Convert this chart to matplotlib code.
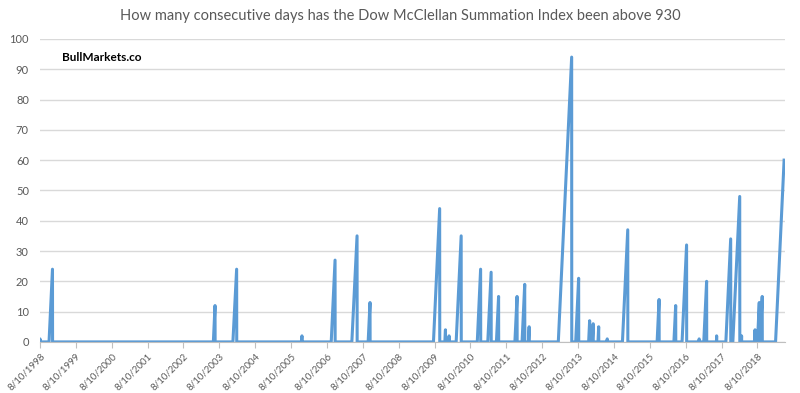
import numpy as np
import pandas as pd
import matplotlib
matplotlib.use("Agg")
import matplotlib.pyplot as plt

plt.rcParams['font.family'] = ['Lato', 'DejaVu Sans']

# each run of consecutive days above 930: first day, last day, length of run
run_start = ['1998-08-10', '1998-11-10', '2003-06-10', '2003-12-26', '2005-11-24',
             '2006-09-22', '2007-04-20', '2007-10-03', '2009-07-29', '2009-11-22',
             '2010-01-01', '2010-03-17', '2010-10-18', '2011-02-02', '2011-05-01',
             '2011-11-05', '2012-01-17', '2012-03-22', '2013-01-20', '2013-07-16',
             '2013-11-25', '2014-01-01', '2014-02-28', '2014-06-01', '2014-11-04',
             '2015-10-23', '2016-04-11', '2016-07-03', '2016-12-23', '2017-02-09',
             '2017-06-18', '2017-09-22', '2017-12-02', '2018-02-27', '2018-07-10',
             '2018-08-10', '2018-09-06', '2019-02-10']
run_end = ['1998-08-10', '1998-12-15', '2003-06-27', '2004-02-02', '2005-11-28',
           '2006-10-31', '2007-06-12', '2007-10-22', '2009-09-30', '2009-11-28',
           '2010-01-04', '2010-05-07', '2010-11-21', '2011-03-08', '2011-05-23',
           '2011-11-27', '2012-02-13', '2012-03-29', '2013-06-05', '2013-08-15',
           '2013-12-05', '2014-01-10', '2014-03-07', '2014-06-02', '2014-12-28',
           '2015-11-12', '2016-04-29', '2016-08-18', '2016-12-24', '2017-03-10',
           '2017-06-20', '2017-11-10', '2018-02-10', '2018-03-01', '2018-07-16',
           '2018-08-28', '2018-09-27', '2019-05-08']
run_days = [1, 24, 12, 24, 2, 27, 35, 13, 44, 4, 2, 35, 24, 23, 15, 15, 19, 5, 94, 21,
            7, 6, 5, 1, 37, 14, 12, 32, 1, 20, 2, 34, 48, 2, 4, 13, 15, 60]

xs, ys = [], []
for s, e, n in zip(run_start, run_end, run_days):
    s = pd.Timestamp(s)
    e = pd.Timestamp(e)
    xs += [s, e, e + pd.Timedelta(days=1)]
    ys += [0, n, 0]
# series ends while the last run is still going
xs.pop()
ys.pop()

tick_dates = pd.date_range('1998-08-10', periods=21, freq=pd.DateOffset(years=1))

grey = '#595959'
fig = plt.figure(figsize=(8, 3.93), dpi=100)
ax = fig.add_axes([0.05, 0.13, 0.931, 0.771])
ax.plot(xs, ys, color='#5b9bd5', lw=2.2)

ax.set_ylim(0, 100)
ax.set_yticks(range(0, 101, 10))
ax.set_xlim(pd.Timestamp('1998-08-10'), pd.Timestamp('2019-05-15'))
ax.set_xticks(tick_dates)
ax.set_xticklabels([f'{d.month}/{d.day}/{d.year}' for d in tick_dates],
                   rotation=45, ha='right', rotation_mode='anchor')
ax.grid(axis='y', color='#d9d9d9', lw=1)
ax.set_axisbelow(True)
for side in ['left', 'right', 'top']:
    ax.spines[side].set_visible(False)
ax.spines['bottom'].set_color('#bfbfbf')
ax.tick_params(axis='y', length=0, labelsize=8, labelcolor=grey, pad=8)
ax.tick_params(axis='x', length=4, color='#bfbfbf', labelsize=7, labelcolor=grey, pad=3)

fig.text(0.5, 0.96, 'How many consecutive days has the Dow McClellan Summation Index been above 930',
         ha='center', va='center', fontsize=10.5, color=grey)
ax.text(0.03, 0.94, 'BullMarkets.co', transform=ax.transAxes, fontsize=8.5,
        fontweight='bold', color='black', va='center')

fig.savefig('out.png', dpi=100)
